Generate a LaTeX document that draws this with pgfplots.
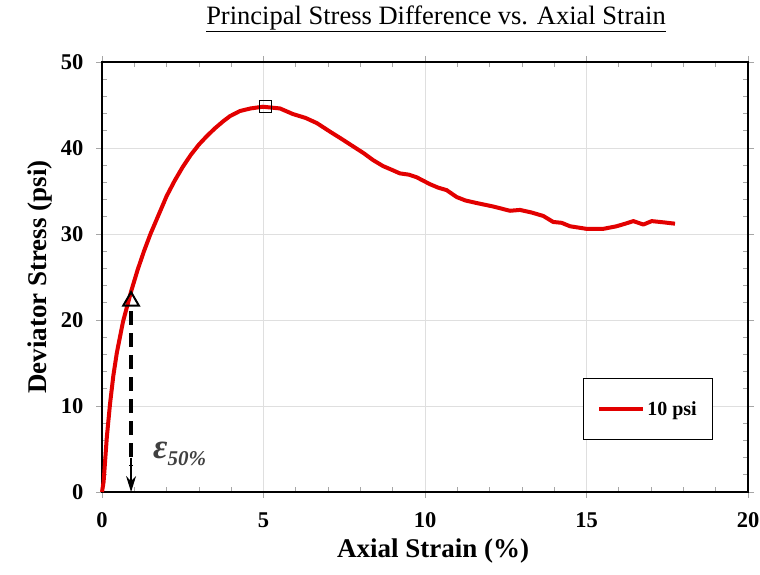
\documentclass[border=0pt]{standalone}
\usepackage{pgfplots}
\pgfplotsset{compat=1.18}
\usepackage{fontspec}
\setmainfont{Liberation Serif}
\usetikzlibrary{arrows.meta}

\definecolor{curvered}{RGB}{226,0,0}

\begin{document}
\begin{tikzpicture}[x=1pt,y=1pt]
\path[use as bounding box] (0,0) rectangle (760,574);

\begin{axis}[
    at={(102pt,82pt)}, anchor=south west,
    scale only axis,
    width=646pt, height=430pt,
    xmin=0, xmax=20, ymin=0, ymax=50,
    xtick={0,5,10,15,20}, ytick={0,10,20,30,40,50},
    minor x tick num=4, minor y tick num=4,
    tick align=outside,
    major tick length=6pt,
    minor tick length=-5pt,
    tick style={gray!70, line width=0.7pt},
    grid=major,
    grid style={gray!25, line width=0.7pt},
    axis line style={black, line width=1.6pt},
    tick label style={font=\fontsize{22.5}{24}\selectfont\bfseries},
    /pgf/number format/assume math mode=true,
    xticklabel style={yshift=-11pt},
    yticklabel style={xshift=-9pt},
    xlabel={\fontsize{27}{29}\selectfont\bfseries Axial Strain (\%)},
    ylabel={\fontsize{27}{29}\selectfont\bfseries Deviator Stress (psi)},
    xlabel style={yshift=-4pt, xshift=8pt},
    ylabel style={yshift=2pt},
    clip=false,
    legend style={at={(0.744,0.12)}, anchor=south west, draw=black, line width=1.4pt,
        font=\fontsize{20}{22}\selectfont\bfseries,
        inner xsep=14pt, inner ysep=21pt, legend cell align=left},
    legend image code/.code={\draw[#1] (0pt,0pt) -- (44pt,0pt);},
]

\addplot[curvered, line width=4pt, line join=round] coordinates {
    (0,0) (0.05,1.2) (0.1,3.8) (0.15,6.4) (0.25,10.3) (0.35,13.5)
    (0.46,16.2) (0.65,19.8) (0.9,23.3) (1.1,25.8) (1.3,28.0) (1.5,30.0)
    (1.75,32.2) (2.0,34.4) (2.25,36.2) (2.5,37.8) (2.75,39.2) (3.0,40.4)
    (3.25,41.4) (3.5,42.3) (3.75,43.1) (3.96,43.7) (4.27,44.3) (4.6,44.6)
    (4.98,44.8) (5.51,44.6) (5.91,43.95) (6.3,43.5) (6.65,42.9) (7.06,41.9)
    (7.4,41.1) (7.77,40.2) (8.1,39.4) (8.39,38.6) (8.7,37.9) (8.95,37.5)
    (9.22,37.05) (9.5,36.9) (9.74,36.6) (10.15,35.8) (10.4,35.4) (10.67,35.1)
    (10.98,34.3) (11.25,33.9) (11.6,33.6) (12.11,33.2) (12.63,32.7)
    (12.94,32.8) (13.3,32.5) (13.66,32.1) (13.97,31.4) (14.23,31.3)
    (14.49,30.9) (15.0,30.6) (15.52,30.6) (15.93,30.9) (16.2,31.2)
    (16.45,31.5) (16.76,31.1) (17.02,31.5) (17.4,31.35) (17.74,31.2)
};
\addlegendentry{10 psi}

% peak marker
\addplot[only marks, mark=square, mark size=6pt, black, line width=1pt, forget plot]
    coordinates {(5.05,44.8)};

% eps_50 arrow
\addplot[black, line width=4pt, dash pattern=on 14pt off 8pt, forget plot]
    coordinates {(0.9,21.0) (0.9,3)};
\addplot[only marks, mark=triangle, mark size=9pt, black, line width=2pt, forget plot]
    coordinates {(0.9,22.2)};
\addplot[black, line width=1.2pt, -{Stealth[length=16pt,width=10pt]}, forget plot]
    coordinates {(0.9,4) (0.9,0)};

\node[anchor=base west, text=black!75, inner sep=0pt] at (axis cs:1.58,3.9)
    {\bfseries\itshape\fontsize{35}{36}\selectfont ε\raisebox{-7pt}{\fontsize{21}{22}\selectfont 50\%}};
\end{axis}

\node at (436pt,555pt) {\fontsize{26.5}{28}\selectfont\underline{Principal Stress Difference vs. Axial Strain}};
\end{tikzpicture}
\end{document}
